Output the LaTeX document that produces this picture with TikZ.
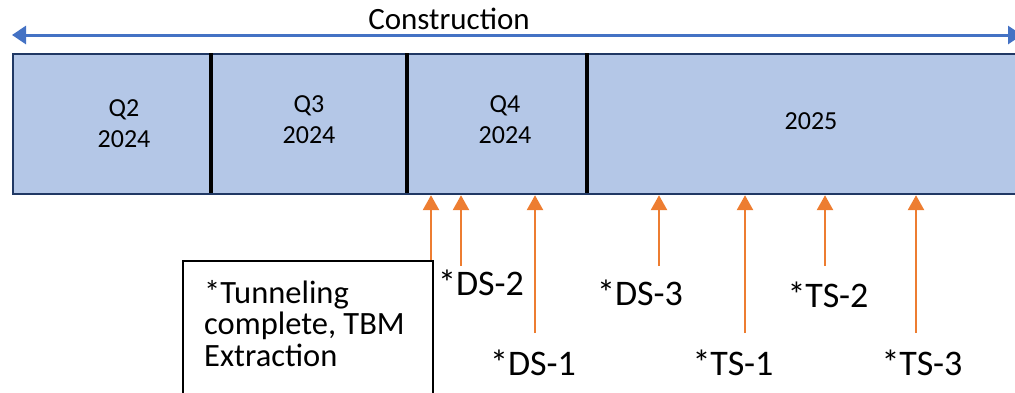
\documentclass[tikz,border=0pt]{standalone}
\usepackage{fontspec}
\setmainfont{Carlito}
\usetikzlibrary{arrows.meta}
\definecolor{barfill}{HTML}{B4C7E7}
\definecolor{barline}{HTML}{203864}
\definecolor{conblue}{HTML}{4472C4}
\definecolor{msorange}{HTML}{ED7D31}
\tikzset{
  period/.style={font=\fontsize{26}{31}\selectfont, align=center, anchor=base},
  divider/.style={line width=3.5pt, black},
  milestone/.style={msorange, line width=2.6pt, -{Triangle[width=16pt,length=15pt]}},
  mlabel/.style={font=\fontsize{36}{40}\selectfont, anchor=base, inner sep=0pt},
}
\begin{document}
\begin{tikzpicture}[x=1pt,y=-1pt]
\useasboundingbox (0,0) rectangle (1015,392);
\clip (0,0) rectangle (1015,392);
% construction span
\coordinate (cl) at (12,35);
\coordinate (cr) at (1022,35);
\draw[conblue, line width=3pt, {Triangle[width=18pt,length=14pt]}-{Triangle[width=18pt,length=14pt]}] (cl) -- (cr);
\node[font=\fontsize{31}{34}\selectfont, anchor=base, inner sep=0pt] (con) at (449,29) {Construction};
% bar
\node[draw=barline, line width=2.2pt, fill=barfill, anchor=north west, minimum width=1030pt, minimum height=140pt, inner sep=0pt] (bar) at (12,53) {};
\draw[divider] (211,53) -- (211,193);
\draw[divider] (407,53) -- (407,193);
\draw[divider] (587,53) -- (587,193);
\node[period] (q2) at (124,147) {Q2\\2024};
\node[period] (q3) at (309,143) {Q3\\2024};
\node[period] (q4) at (505,143) {Q4\\2024};
\node[period] (y25) at (811,129) {2025};
% tunneling box
\node[draw=black, line width=1.6pt, anchor=north west, minimum width=250pt, minimum height=160pt, inner sep=0pt] (tbox) at (182,260) {};
\node[font=\fontsize{32.5}{31.5}\selectfont, align=left, anchor=base west, inner sep=0pt] (ttext) at (204,366) {*Tunneling\\complete, TBM\\Extraction};
% milestones
\coordinate (tb) at (431,260);
\coordinate (d2) at (461,266);
\coordinate (d1) at (535,333);
\coordinate (d3) at (659,266);
\coordinate (t1) at (745,333);
\coordinate (t2) at (825,266);
\coordinate (t3) at (916,333);
\foreach \c in {tb,d2,d1,d3,t1,t2,t3}
  \draw[milestone] (\c) -- (\c |- bar.south);
\node[mlabel] (ld2) at (481,295) {*DS-2};
\node[mlabel] (ld1) at (533,375) {*DS-1};
\node[mlabel] (ld3) at (640,305) {*DS-3};
\node[mlabel] (lt2) at (828,307) {*TS-2};
\node[mlabel] (lt1) at (733,375) {*TS-1};
\node[mlabel] (lt3) at (922,375) {*TS-3};
\end{tikzpicture}
\end{document}
